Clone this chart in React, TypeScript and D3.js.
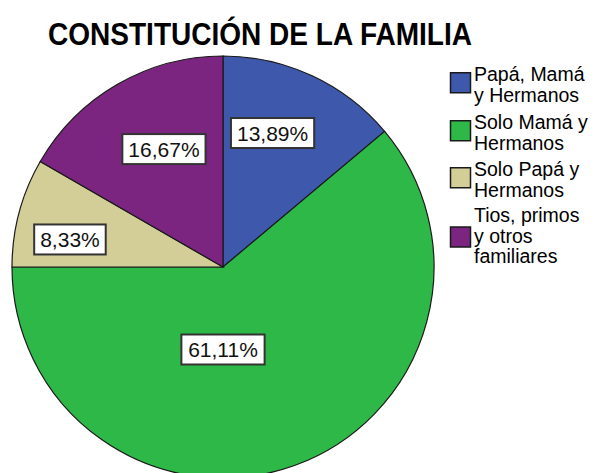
import React from "react";
import * as d3 from "d3";

const categories = [
  ["Papá, Mamá", "y Hermanos"],
  ["Solo Mamá y", "Hermanos"],
  ["Solo Papá y", "Hermanos"],
  ["Tios, primos", "y otros", "familiares"],
];
const values = [13.89, 61.11, 8.33, 16.67];
const valueLabels = ["13,89%", "61,11%", "8,33%", "16,67%"];
const colors = ["#3E58AC", "#2EB848", "#D3CE97", "#7B2581"];
// label anchor: [angle deg clockwise from 12 o'clock, radius fraction]
const labelAnchors: [number, number][] = [
  [20.3, 0.677],
  [180, 0.391],
  [280.2, 0.737],
  [333.4, 0.625],
];

const W = 598;
const H = 473;
const FONT = "'Liberation Sans', Arial, Helvetica, sans-serif";

export default function App() {
  const cx = 223;
  const cy = 267;
  const R = 211;
  const pie = d3
    .pie<number>()
    .sort(null)
    .value((d) => d)
    .startAngle(0)
    .endAngle(2 * Math.PI);
  const arcs = pie(values);
  const arcGen = d3.arc<d3.PieArcDatum<number>>().innerRadius(0).outerRadius(R);

  const labelFont = 21;
  const legendFont = 19.5;
  const lineH = 20.5;
  const itemTops = [81, 129, 176, 222];

  return (
    <div style={{ position: "fixed", left: 0, top: 0 }}>
      <svg width={W} height={H} style={{ display: "block", background: "#fff" }}>
        <text
          x={260}
          y={45}
          textAnchor="middle"
          fontFamily={FONT}
          fontWeight="bold"
          fontSize={31}
          textLength={424}
          lengthAdjust="spacingAndGlyphs"
          fill="#000"
        >
          CONSTITUCIÓN DE LA FAMILIA
        </text>
        <g transform={`translate(${cx},${cy})`}>
          {arcs.map((a, i) => (
            <path key={i} d={arcGen(a) || ""} fill={colors[i]} stroke="#1a1a1a" strokeWidth={1.2} />
          ))}
          {arcs.map((a, i) => {
            const [ang, rf] = labelAnchors[i];
            const t = (ang * Math.PI) / 180;
            const x = Math.sin(t) * rf * R;
            const y = -Math.cos(t) * rf * R;
            const tw = valueLabels[i].length * 0.5 * labelFont + 2;
            const w = labelFont * (valueLabels[i].replace(/[0-9]/g, "").length === 2 ? 0 : 0) + measure(valueLabels[i], labelFont) + 12;
            const h = 30;
            return (
              <g key={"l" + i} transform={`translate(${x},${y})`}>
                <rect x={-w / 2} y={-h / 2} width={w} height={h} fill="#fff" stroke="#333" strokeWidth={2} />
                <text
                  x={0}
                  y={7.5}
                  textAnchor="middle"
                  fontFamily={FONT}
                  fontSize={labelFont}
                  fill="#111"
                >
                  {valueLabels[i]}
                </text>
              </g>
            );
          })}
        </g>
        <g>
          {categories.map((lines, i) => {
            const top = itemTops[i];
            const mean = top + ((lines.length - 1) * lineH) / 2;
            const sc = mean - (lines.length === 3 ? 5.5 : 8.5);
            return (
              <g key={"lg" + i}>
                <rect x={450.5} y={sc - 10} width={20} height={20} fill={colors[i]} stroke="#1a1a1a" strokeWidth={1.5} />
                <text fontFamily={FONT} fontSize={legendFont} fill="#000">
                  {lines.map((ln, j) => (
                    <tspan key={j} x={474} y={top + j * lineH}>
                      {ln}
                    </tspan>
                  ))}
                </text>
              </g>
            );
          })}
        </g>
      </svg>
    </div>
  );
}

function measure(s: string, size: number): number {
  let w = 0;
  for (const c of s) {
    if (/[0-9]/.test(c)) w += 0.556;
    else if (c === ",") w += 0.278;
    else if (c === "%") w += 0.889;
    else w += 0.556;
  }
  return w * size;
}
